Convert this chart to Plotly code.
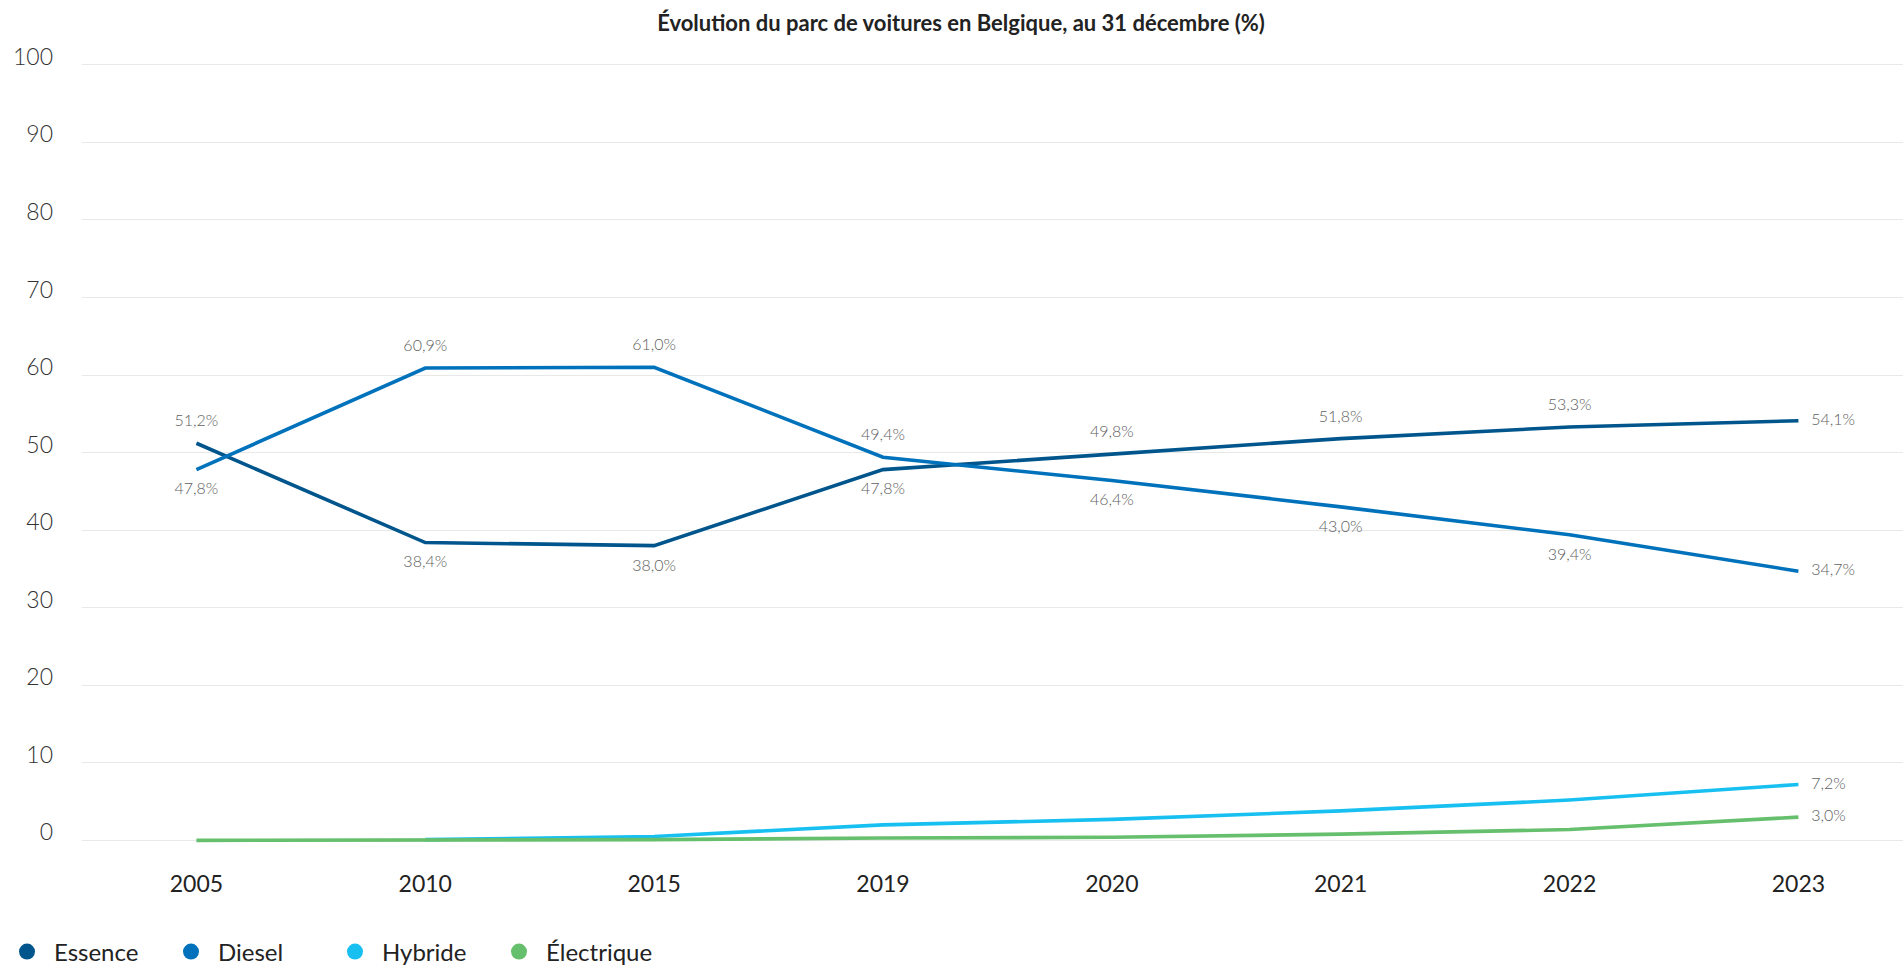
import plotly.graph_objects as go

years = ["2005", "2010", "2015", "2019", "2020", "2021", "2022", "2023"]
essence = [51.2, 38.4, 38.0, 47.8, 49.8, 51.8, 53.3, 54.1]
diesel = [47.8, 60.9, 61.0, 49.4, 46.4, 43.0, 39.4, 34.7]
hybride = [None, 0.1, 0.5, 2.0, 2.7, 3.8, 5.2, 7.2]
electrique = [0.0, 0.0, 0.1, 0.3, 0.4, 0.8, 1.4, 3.0]
y_ticks = [0, 10, 20, 30, 40, 50, 60, 70, 80, 90, 100]

names = ["Essence", "Diesel", "Hybride", "Électrique"]
colors = ["#00568c", "#0072bb", "#17c0f0", "#66bf6c"]

def fmt(v):
    return f"{v:.1f}".replace(".", ",") + "%"

pos_essence = ["top center", "bottom center", "bottom center", "bottom center",
               "top center", "top center", "top center", "middle right"]
pos_diesel = ["bottom center", "top center", "top center", "top center",
              "bottom center", "bottom center", "bottom center", "middle right"]

series = [
    (essence, [fmt(v) for v in essence], pos_essence),
    (diesel, [fmt(v) for v in diesel], pos_diesel),
    (hybride, [""] * (len(hybride) - 1) + [fmt(hybride[-1])], ["middle right"] * len(hybride)),
    (electrique, [""] * (len(electrique) - 1) + [fmt(electrique[-1])], ["middle right"] * len(electrique)),
]

fig = go.Figure()
label_font = dict(family="Lato", size=16, color="#606060", weight=300)

for (vals, texts, poss), name, col in zip(series, names, colors):
    fig.add_trace(go.Scatter(
        x=years, y=vals, mode="lines+markers+text", name=name,
        line=dict(color=col, width=3.6),
        marker=dict(size=19, color=col, opacity=0),
        text=texts, textposition=poss, textfont=label_font,
        showlegend=False, cliponaxis=False,
        hovertemplate="%{x}: %{y:.1f}%<extra>" + name + "</extra>",
    ))

for name, col in zip(names, colors):
    fig.add_trace(go.Scatter(
        x=[None], y=[None], mode="markers", name=name,
        marker=dict(size=20, color=col, symbol="circle"),
        showlegend=True,
    ))

fig.update_layout(
    width=1903, height=966,
    margin=dict(l=82, r=0, t=57, b=114),
    paper_bgcolor="white", plot_bgcolor="white",
    separators=", ",
    title=dict(
        text="Évolution du parc de voitures en Belgique, au 31 décembre (%)",
        x=0.505, xref="container", xanchor="center",
        y=1 - 23 / 966, yref="container", yanchor="middle",
        font=dict(family="Lato", size=22, color="#222222", weight="bold"),
    ),
    xaxis=dict(
        type="category", range=[-0.5, 7.457],
        showgrid=False, showline=False, zeroline=False, ticks="",
        tickfont=dict(family="Lato", size=23, color="#222222"),
        ticklabelstandoff=16,
    ),
    yaxis=dict(
        range=[-1.5, 101], tickvals=y_ticks, ticktext=[str(t) for t in y_ticks],
        showgrid=True, gridcolor="#e8e8e8", gridwidth=1,
        zeroline=False, showline=False, ticks="",
        tickfont=dict(family="Lato", size=23, color="#333333", weight=300),
        ticklabelstandoff=28, ticklabelshift=-8,
    ),
    legend=dict(
        orientation="h", xref="container", yref="container",
        x=0.0, xanchor="left", y=1 - 952 / 966, yanchor="middle",
        font=dict(family="Lato", size=24, color="#222222"),
        itemwidth=44,
        entrywidthmode="pixels", entrywidth=105,
        itemclick=False, itemdoubleclick=False,
    ),
    showlegend=True,
)

fig.write_html(
    "out.html",
    config={"displayModeBar": False},
    post_script="document.body.style.margin='0';document.body.style.overflow='hidden';",
)
